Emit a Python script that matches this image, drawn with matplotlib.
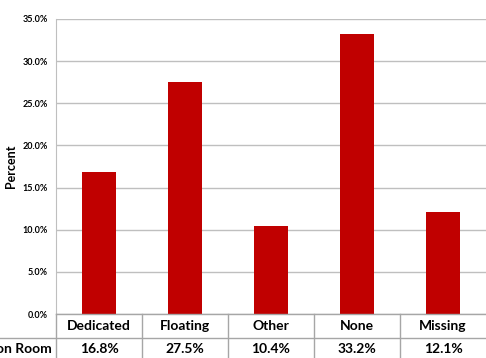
import matplotlib.pyplot as plt
from matplotlib.ticker import FuncFormatter

categories = ["Dedicated", "Floating", "Other", "None", "Missing"]
percents = [16.8, 27.5, 10.4, 33.2, 12.1]
row_label = "Collection Room"

plt.rcParams['font.family'] = ['Lato', 'DejaVu Sans']

W, H = 486, 358
fig = plt.figure(figsize=(W / 100, H / 100), dpi=100)
left, right, top, bottom = 56, 486, 19, 314
ax = fig.add_axes([left / W, (H - bottom) / H, (right - left) / W, (bottom - top) / H])

x = range(len(categories))
ax.bar(x, percents, width=0.4, color="#C00000", zorder=3)
ax.set_xlim(-0.5, len(categories) - 0.5)
ax.set_ylim(0, 35)
ax.set_yticks([0, 5, 10, 15, 20, 25, 30, 35])
ax.yaxis.set_major_formatter(FuncFormatter(lambda v, p: f"{v:.1f}%"))
ax.tick_params(axis='y', length=0, labelsize=6.5, pad=6)
for lab in ax.get_yticklabels():
    lab.set_fontweight('bold')
ax.set_xticks([])
ax.grid(axis='y', color="#BFBFBF", linewidth=1, zorder=0)
for s in ["top", "right", "bottom"]:
    ax.spines[s].set_visible(False)
ax.spines["left"].set_color("#BFBFBF")
ax.set_ylabel("Percent", fontsize=9, fontweight='bold', labelpad=4)

# data table under the plot, in figure pixel coordinates
def fx(px):
    return px / W

def fy(py):
    return 1 - py / H

line_kw = dict(color="#A6A6A6", linewidth=1, transform=fig.transFigure)
fig.add_artist(plt.Line2D([fx(left), 1], [fy(bottom), fy(bottom)], **line_kw))
fig.add_artist(plt.Line2D([0, 1], [fy(338), fy(338)], **line_kw))
cw = (right - left) / len(categories)
for i in range(len(categories)):
    xp = left + i * cw
    fig.add_artist(plt.Line2D([fx(xp), fx(xp)], [fy(bottom), 0], **line_kw))
for i, (c, p) in enumerate(zip(categories, percents)):
    xc = left + (i + 0.5) * cw
    fig.text(fx(xc), fy(326), c, ha='center', va='center', fontsize=10, fontweight='bold')
    fig.text(fx(xc), fy(349), f"{p:.1f}%", ha='center', va='center', fontsize=10, fontweight='bold')
fig.text(fx(52), fy(349), row_label, ha='right', va='center', fontsize=10, fontweight='bold')

fig.savefig("out.png", dpi=100)
